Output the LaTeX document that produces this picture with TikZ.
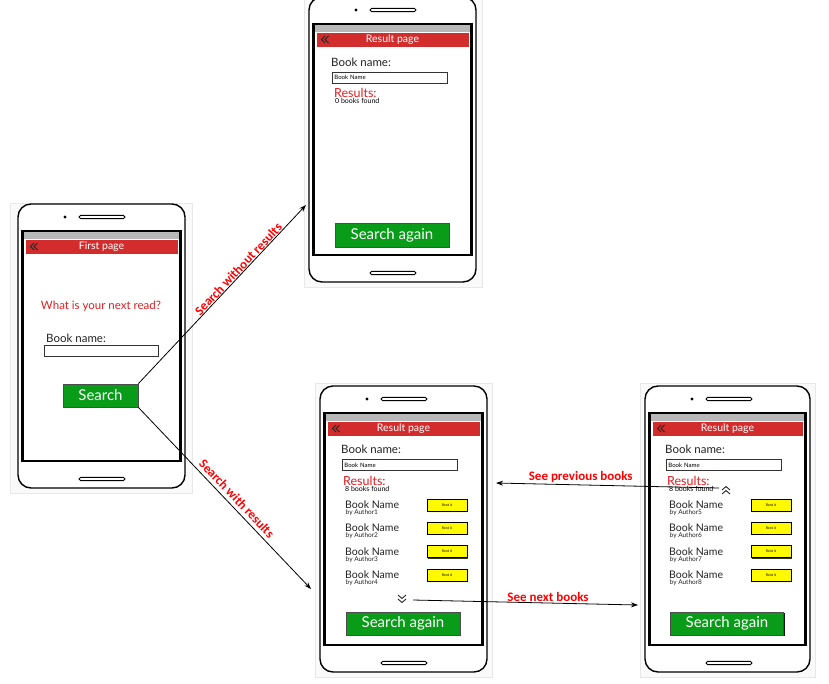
\documentclass[tikz,border=0pt]{standalone}
\usepackage{fontspec}
\setmainfont{Lato}
\newfontfamily\labfont{Carlito}
\usetikzlibrary{arrows.meta,shadows}
\definecolor{hdrred}{RGB}{211,44,44}
\definecolor{txtred}{RGB}{225,30,35}
\definecolor{labred}{RGB}{255,0,0}
\definecolor{btngreen}{RGB}{8,156,24}
\definecolor{rentyel}{RGB}{255,250,0}
\definecolor{inkgray}{RGB}{35,35,35}
\newcommand\fs[1]{\fontsize{#1}{#1}\selectfont}
\tikzset{
 panel/.style={fill=black!2, draw=black!9, line width=0.6pt},
 body/.style={draw=black, line width=1.4pt, rounded corners=13pt, fill=white},
 screenbox/.style={draw=black, line width=2.2pt, fill=white},
 statusbar/.style={fill=black!28},
 header/.style={fill=hdrred},
 slot/.style={draw=black, line width=1pt, rounded corners=1.7pt},
 chev/.style={draw=black!85, line width=0.9pt},
 hdrtext/.style={text=white, font=\fs{10.5}, inner sep=0},
 lbl/.style={font=\fs{11.5}, text=inkgray, anchor=west, inner sep=0},
 reslbl/.style={font=\fs{12.5}, text=txtred, anchor=west, inner sep=0},
 small/.style={font=\fs{7}, text=black, anchor=west, inner sep=0},
 bname/.style={font=\fs{10.5}, text=inkgray, anchor=west, inner sep=0},
 author/.style={font=\fs{6.5}, text=inkgray, anchor=west, inner sep=0},
 field/.style={draw=black!80, line width=0.9pt, fill=white, anchor=west, inner xsep=2pt, inner ysep=0pt, text width=111pt, align=left, minimum height=11pt, font=\fs{6}},
 gbtn/.style={fill=btngreen, draw=black!70, line width=0.8pt, text=white, inner sep=0,
   drop shadow={shadow xshift=1.3pt, shadow yshift=-1.3pt, fill=black, opacity=0.9}},
 rentbtn/.style={fill=rentyel, draw=black, line width=0.8pt, minimum width=40pt, minimum height=12pt, inner sep=0, font=\fs{3.5},
   drop shadow={shadow xshift=1pt, shadow yshift=-1pt, fill=black, opacity=0.8}},
 conn/.style={draw=black, line width=0.8pt, -{Stealth[length=7pt,width=5pt]}},
 arrlabel/.style={font=\labfont\bfseries\fs{13}, text=labred, inner sep=0.5pt},
}
% phone frame: x1,y1,x2,y2
\newcommand\phoneframe[4]{%
 \draw[body] (#1,#2) rectangle (#3,#4);
 \fill[black] (#1+47,#2+13) circle (1.6pt);
 \draw[slot] (#1+61,#2+11.3) rectangle (#1+107,#2+14.7);
 \draw[slot] (#1+61,#4-10.7) rectangle (#1+107,#4-7.3);
 \draw[screenbox] (#1+4.5,#2+27) rectangle (#3-4.5,#4-27);
 \fill[statusbar] (#1+5.6,#2+28.1) rectangle (#3-5.6,#2+35);
 \fill[header] (#1+7.5,#2+35.5) rectangle (#3-7.5,#2+50);
 \draw[chev] (#1+16,#2+39) -- (#1+12.5,#2+42.5) -- (#1+16,#2+46);
 \draw[chev] (#1+19.5,#2+39) -- (#1+16,#2+42.5) -- (#1+19.5,#2+46);
}
\newcommand\downchev[2]{%
 \draw[chev] (#1-4,#2-4) -- (#1,#2-0.5) -- (#1+4,#2-4);
 \draw[chev] (#1-4,#2) -- (#1,#2+3.5) -- (#1+4,#2);
}
\newcommand\upchev[2]{%
 \draw[chev] (#1-4,#2) -- (#1,#2-3.5) -- (#1+4,#2);
 \draw[chev] (#1-4,#2+4) -- (#1,#2+0.5) -- (#1+4,#2+4);
}
% book row: prefix, x text, y, author, x rent centre
\newcommand\bookrow[5]{%
 \node[bname] (#1n) at (#2,#3) {Book Name};
 \node[author] (#1a) at (#2+0.5,#3+8) {by #4};
 \node[rentbtn] (#1r) at (#5,#3) {Rent it};
}
\begin{document}
\begin{tikzpicture}[x=1pt,y=-1pt]
\useasboundingbox (0,0) rectangle (829,683);
% screenshot panels
\draw[panel] (10,203) rectangle (192,493);
\draw[panel] (304,-2) rectangle (482,287);
\draw[panel] (315,383) rectangle (492,677);
\draw[panel] (640,383) rectangle (815,677);

% ---------- phone 1: first page
\phoneframe{18}{204}{185}{488}
\node[hdrtext] (h1) at (101.5,247) {First page};
\node[font=\fs{11.5}, text=txtred, inner sep=0] (q1) at (101,306) {What is your next read?};
\node[lbl] (bn1) at (46,338) {Book name:};
\node[field, text width=110pt] (f1) at (44,351) {};
\node[gbtn, minimum width=75pt, minimum height=23pt, font=\fs{15}] (search) at (100.5,395.5) {Search};

% ---------- phone 2: result page, no results
\phoneframe{309}{-3}{476}{282}
\node[hdrtext] (h2) at (392.5,40) {Result page};
\node[lbl] (bn2) at (331,62) {Book name:};
\node[field] (f2) at (332,77.5) {Book Name};
\node[reslbl] (r2) at (334,93) {Results:};
\node[small] (c2) at (335,101) {0 books found};
\node[gbtn, minimum width=114pt, minimum height=24pt, font=\fs{15}] (again2) at (392,235) {Search again};

% ---------- phone 3: result page, books 1-4
\phoneframe{320}{386}{487}{672}
\node[hdrtext] (h3) at (403.5,429) {Result page};
\node[lbl] (bn3) at (341,449) {Book name:};
\node[field] (f3) at (342,465) {Book Name};
\node[reslbl] (r3) at (343,481) {Results:};
\node[small] (c3) at (345,489) {8 books found};
\bookrow{b1}{345}{505}{Author1}{447}
\bookrow{b2}{345}{528}{Author2}{447}
\bookrow{b3}{345}{551.5}{Author3}{447}
\bookrow{b4}{345}{575}{Author4}{447}
\downchev{402}{599}
\node[gbtn, minimum width=114pt, minimum height=23pt, font=\fs{15}] (again3) at (403,623.5) {Search again};

% ---------- phone 4: result page, books 5-8
\phoneframe{645}{386}{810}{672}
\node[hdrtext] (h4) at (727.5,429) {Result page};
\node[lbl] (bn4) at (665,449) {Book name:};
\node[field] (f4) at (666,465) {Book Name};
\node[reslbl] (r4) at (667,481) {Results:};
\node[small] (c4) at (669,489) {8 books found};
\upchev{726}{490}
\bookrow{b5}{669}{505}{Author5}{771}
\bookrow{b6}{669}{528}{Author6}{771}
\bookrow{b7}{669}{551.5}{Author7}{771}
\bookrow{b8}{669}{575}{Author8}{771}
\node[gbtn, minimum width=113pt, minimum height=23pt, font=\fs{15}] (again4) at (727,623.5) {Search again};

% ---------- connectors
\coordinate (noresEnd) at (306,205);
\coordinate (resEnd) at (311,589);
\coordinate (prevStart) at (719,488);
\coordinate (prevEnd) at (496,483);
\coordinate (nextStart) at (413,600);
\coordinate (nextEnd) at (638,605);
\draw[conn] (search.north east) -- node[arrlabel, sloped, above, pos=0.62] (lab1) {Search without results} (noresEnd);
\draw[conn] (search.south east) -- node[arrlabel, sloped, above=3pt, pos=0.535] (lab2) {Search with results} (resEnd);
\draw[conn] (prevStart) -- node[arrlabel, pos=0.62, above=1pt] (lab3) {See previous books} (prevEnd);
\draw[conn] (nextStart) -- node[arrlabel, pos=0.6, above=1pt] (lab4) {See next books} (nextEnd);
\end{tikzpicture}
\end{document}
